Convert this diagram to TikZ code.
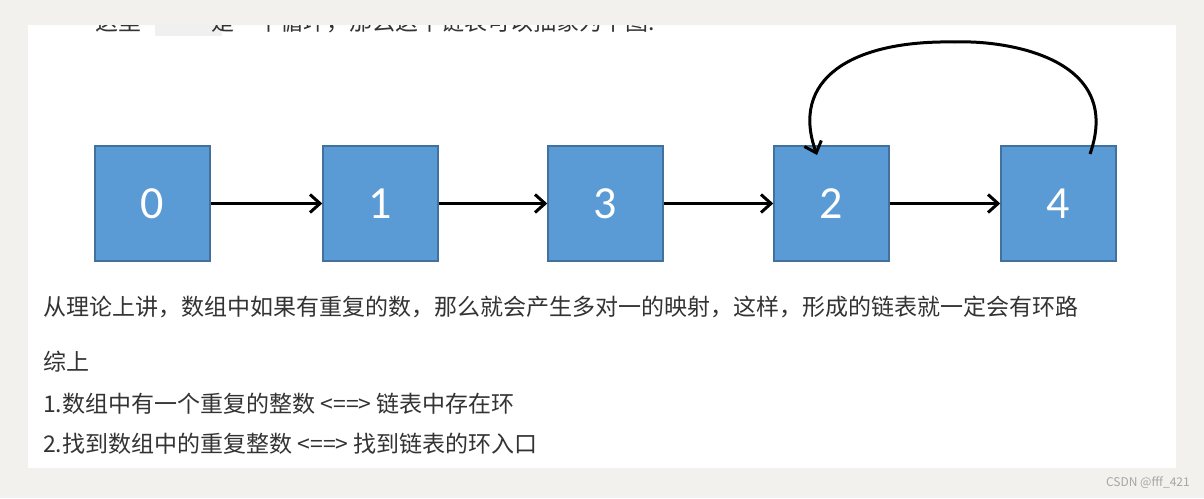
\documentclass[tikz,border=0pt]{standalone}
\usepackage{fontspec}
\setmainfont{Noto Sans CJK SC}
\newfontfamily\digitfont{Carlito}
\usetikzlibrary{arrows.meta}
\definecolor{pagebg}{HTML}{F2F1EE}
\definecolor{boxfill}{HTML}{5B9BD5}
\definecolor{boxline}{HTML}{41719C}
\definecolor{txt}{HTML}{333333}
\tikzset{
  cell/.style={draw=boxline, line width=1.5pt, fill=boxfill, minimum width=115pt, minimum height=115pt, inner sep=0pt, text=white, font=\digitfont\fontsize{46}{46}\selectfont},
  link/.style={line width=3pt, -{Straight Barb[length=10pt,width=18pt,line width=3pt]}},
  para/.style={anchor=base west, inner sep=0pt, text=txt, font=\fontsize{23}{23}\selectfont}
}
\begin{document}
\begin{tikzpicture}[x=1pt,y=-1pt]
\useasboundingbox (0,0) rectangle (1204,498);
\fill[pagebg] (0,0) rectangle (1204,498);
\fill[white] (28,25) rectangle (1176,468);
\begin{scope}
\clip (28,25) rectangle (1176,468);
\fill[gray!12] (155,10) rectangle (222,36);
\node[para] (top) at (95,30) {这里\hspace{70pt}是一个循环，那么这个链表可以抽象为下图:};
\node[para] (p1) at (43,315) {从理论上讲，数组中如果有重复的数，那么就会产生多对一的映射，这样，形成的链表就一定会有环路};
\end{scope}
\node[cell] (n0) at (152.5,203.5) {0};
\node[cell] (n1) at (380.5,203.5) {1};
\node[cell] (n3) at (605.5,203.5) {3};
\node[cell] (n2) at (831.5,203.5) {2};
\node[cell] (n4) at (1058.5,203.5) {4};
\draw[link] (n0) -- (n1);
\draw[link] (n1) -- (n3);
\draw[link] (n3) -- (n2);
\draw[link] (n2) -- (n4);
\coordinate (s) at (1090,154);
\coordinate (e) at (817,155);
\draw[link] (s) .. controls (1125,55) and (1000,40) .. (955,42) .. controls (850,40) and (790,80) .. (e);
\node[para] (p2) at (43,370) {综上};
\node[para] (p3) at (43,412) {1.数组中有一个重复的整数 <==> 链表中存在环};
\node[para] (p4) at (43,452) {2.找到数组中的重复整数 <==> 找到链表的环入口};
\node[anchor=base east, inner sep=0pt, text=gray!70, font=\fontsize{12}{12}\selectfont] (wm) at (1190,486) {CSDN @fff\_421};
\end{tikzpicture}
\end{document}
